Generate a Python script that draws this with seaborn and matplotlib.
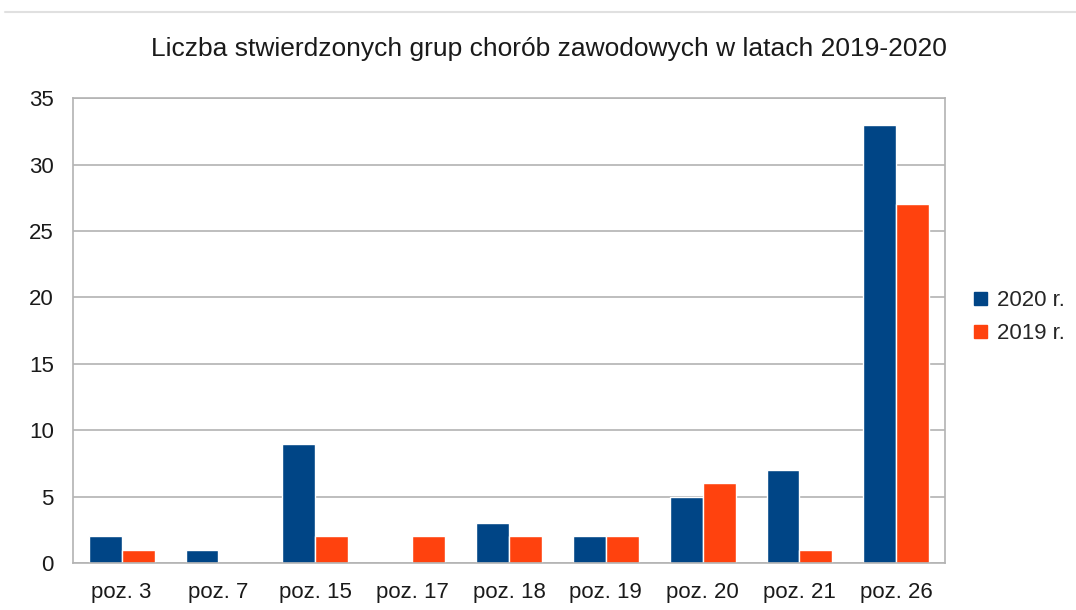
import matplotlib
matplotlib.use("Agg")
import matplotlib.pyplot as plt
import matplotlib.lines as mlines
from matplotlib.ticker import FixedLocator
import pandas as pd
import seaborn as sns

categories = ["poz. 3", "poz. 7", "poz. 15", "poz. 17", "poz. 18",
              "poz. 19", "poz. 20", "poz. 21", "poz. 26"]
values_2020 = [2, 1, 9, 0, 3, 2, 5, 7, 33]
values_2019 = [1, 0, 2, 2, 2, 2, 6, 1, 27]
series = ["2020 r.", "2019 r."]
colors = ["#004586", "#ff420e"]

df = pd.DataFrame({
    "kategoria": categories * 2,
    "liczba": values_2020 + values_2019,
    "rok": [series[0]] * len(categories) + [series[1]] * len(categories),
})

sns.set_style("white")
plt.rcParams["font.family"] = ["Liberation Sans", "DejaVu Sans"]

fig = plt.figure(figsize=(10.76, 6.10), dpi=100)
ax = fig.add_axes([0.068, 0.077, 0.810, 0.762])

sns.barplot(data=df, x="kategoria", y="liczba", hue="rok", order=categories,
            hue_order=series, palette=colors, width=0.68, saturation=1,
            legend=False, ax=ax)

ax.set_ylim(0, 35)
ax.set_xlim(-0.5, len(categories) - 0.5)
ax.set_yticks(range(0, 36, 5))
ax.yaxis.grid(True, color="#b3b3b3", linewidth=1.2)
ax.set_axisbelow(True)
ax.set_xlabel("")
ax.set_ylabel("")

# ticks between categories, like the original
ax.xaxis.set_minor_locator(FixedLocator([i - 0.5 for i in range(len(categories) + 1)]))
ax.tick_params(axis="x", which="minor", length=10, width=1.2, color="#b3b3b3")
ax.tick_params(axis="x", which="major", length=0, labelsize=16, pad=14, labelcolor="#1a1a1a")
ax.tick_params(axis="y", length=10, width=1.2, color="#b3b3b3", labelsize=16, pad=4,
               labelcolor="#1a1a1a")

for s in ax.spines.values():
    s.set_color("#b3b3b3")
    s.set_linewidth(1.2)

fig.suptitle("Liczba stwierdzonych grup chorób zawodowych w latach 2019-2020",
             x=0.51, y=0.94, fontsize=19, color="#1a1a1a")

# thin separator line at the very top
fig.add_artist(mlines.Line2D([0.005, 1.0], [0.980, 0.980], color="#e0e0e0", linewidth=1.5))

handles = [plt.Rectangle((0, 0), 1, 1, color=c) for c in colors]
fig.legend(handles, series, loc="center left", bbox_to_anchor=(0.887, 0.48),
           frameon=False, fontsize=16, handlelength=0.55, handleheight=0.55,
           handletextpad=0.45, labelspacing=0.55)

fig.savefig("out.png", dpi=100)
